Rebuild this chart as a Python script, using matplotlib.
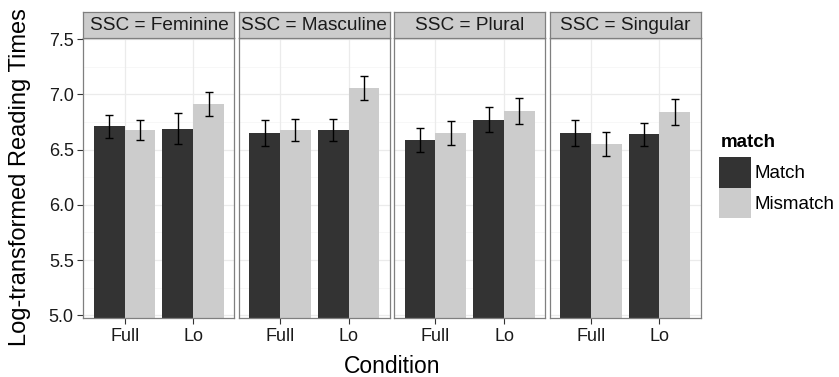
import numpy as np
import matplotlib
matplotlib.use("Agg")
import matplotlib.pyplot as plt
from matplotlib.patches import Patch

plt.rcParams['font.family'] = ['Liberation Sans', 'DejaVu Sans']

# data
panels = ["Feminine", "Masculine", "Plural", "Singular"]
conditions = ["Full", "Lo"]
match_vals = {
    "Feminine": [6.71, 6.69],
    "Masculine": [6.65, 6.68],
    "Plural": [6.59, 6.77],
    "Singular": [6.65, 6.64],
}
mismatch_vals = {
    "Feminine": [6.68, 6.91],
    "Masculine": [6.68, 7.06],
    "Plural": [6.65, 6.85],
    "Singular": [6.55, 6.84],
}
match_err = {
    "Feminine": [0.105, 0.14],
    "Masculine": [0.115, 0.10],
    "Plural": [0.11, 0.115],
    "Singular": [0.115, 0.105],
}
mismatch_err = {
    "Feminine": [0.09, 0.11],
    "Masculine": [0.10, 0.11],
    "Plural": [0.11, 0.12],
    "Singular": [0.11, 0.12],
}
yticks = [5.0, 5.5, 6.0, 6.5, 7.0, 7.5]

DARK = "#333333"
LIGHT = "#CCCCCC"
BORDER = "#7F7F7F"

fig, axes = plt.subplots(1, 4, figsize=(8.39, 3.77), dpi=100, sharey=True)
fig.subplots_adjust(left=0.0995, right=0.835, top=0.899, bottom=0.1565, wspace=0.03)

x = np.arange(1, len(conditions) + 1)
w = 0.45
for ax, p in zip(axes, panels):
    ax.set_facecolor("white")
    for y in yticks:
        ax.axhline(y, color="#EBEBEB", lw=0.9, zorder=0)
    for y in np.arange(5.25, 7.6, 0.5):
        ax.axhline(y, color="#F7F7F7", lw=0.7, zorder=0)
    for xi in x:
        ax.axvline(xi, color="#EBEBEB", lw=0.9, zorder=0)
    ax.bar(x - w / 2, match_vals[p], width=w, color=DARK, zorder=2)
    ax.bar(x + w / 2, mismatch_vals[p], width=w, color=LIGHT, zorder=2)
    ax.errorbar(x - w / 2, match_vals[p], yerr=match_err[p], fmt="none",
                ecolor="black", elinewidth=1.0, capsize=2.6, capthick=1.0, zorder=3)
    ax.errorbar(x + w / 2, mismatch_vals[p], yerr=mismatch_err[p], fmt="none",
                ecolor="black", elinewidth=1.0, capsize=2.6, capthick=1.0, zorder=3)
    ax.set_xlim(0.4, 2.6)
    ax.set_ylim(4.975, 7.51)
    ax.set_xticks(x)
    ax.set_xticklabels(conditions)
    ax.set_yticks(yticks)
    ax.tick_params(axis="both", length=4, width=0.8, color="#333333",
                   labelcolor="#1A1A1A", labelsize=13, pad=3)
    for s in ax.spines.values():
        s.set_color(BORDER)
        s.set_linewidth(0.9)

    # facet strip
    pos = ax.get_position()
    sax = fig.add_axes([pos.x0, pos.y1, pos.width, 0.969 - pos.y1])
    sax.set_facecolor(LIGHT)
    sax.set_xticks([])
    sax.set_yticks([])
    for s in sax.spines.values():
        s.set_color(BORDER)
        s.set_linewidth(0.9)
    sax.text(0.5, 0.47, "SSC = " + p, ha="center", va="center",
             fontsize=13.7, color="#1A1A1A", transform=sax.transAxes)

for ax in axes[1:]:
    ax.tick_params(axis="y", left=False)

axes[0].set_yticklabels(["%.1f" % v for v in yticks])
fig.text(0.024, 0.53, "Log-transformed Reading Times", rotation=90,
         ha="center", va="center", fontsize=17)
fig.text(0.467, 0.027, "Condition", ha="center", va="center", fontsize=16.5)

# legend: title as separate text so its spacing to the keys can be set
fig.text(0.859, 0.621, "match", ha="left", va="center", fontsize=13.5,
         fontweight="bold")
handles = [Patch(facecolor=DARK, edgecolor="none", label="Match"),
           Patch(facecolor=LIGHT, edgecolor="none", label="Mismatch")]
leg = fig.legend(handles=handles, loc="upper left",
                 bbox_to_anchor=(0.857, 0.583), frameon=False, fontsize=13.5,
                 handlelength=1.7, handleheight=2.13, labelspacing=0.0,
                 handletextpad=0.2, borderaxespad=0, borderpad=0)

fig.savefig("out.png", dpi=100)
